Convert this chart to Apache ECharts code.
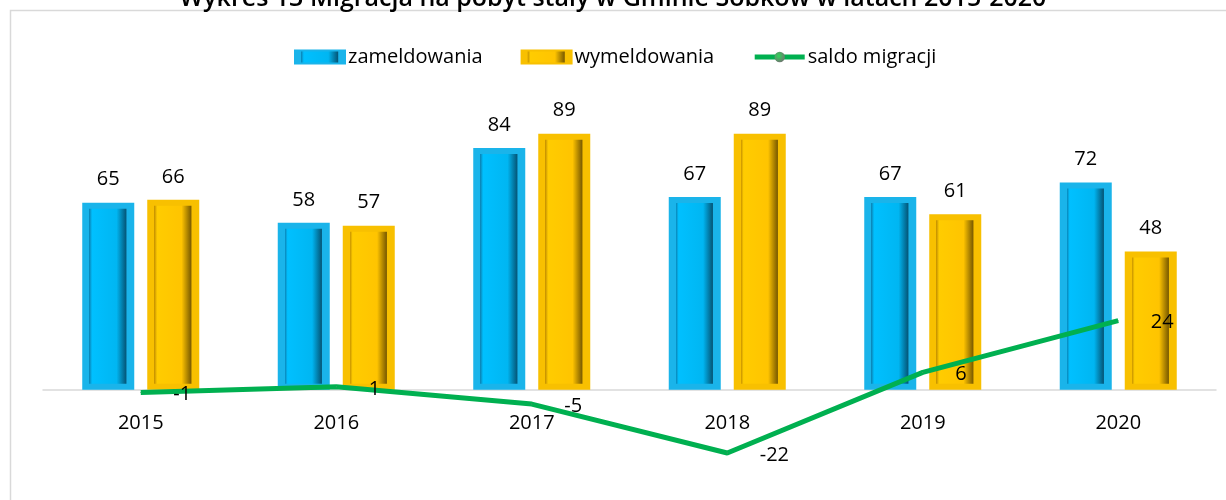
<!DOCTYPE html>
<html>
<head>
<meta charset="utf-8">
<title>Migracja</title>
<script src="https://cdn.jsdelivr.net/npm/echarts@6/dist/echarts.min.js"></script>
<style>
    html, body { margin: 0; padding: 0; background: #fff; }
    #main { width: 1226px; height: 500px; }
</style>
</head>
<body>
<div id="main"></div>
<script>
let categories = ['2015', '2016', '2017', '2018', '2019', '2020']
let zameldowania = [65, 58, 84, 67, 67, 72]
let wymeldowania = [66, 57, 89, 89, 61, 48]
let saldo = [-1, 1, -5, -22, 6, 24]

let font = '"Open Sans", "Noto Sans", sans-serif'
let yMin = -30
let yMax = 100

// bevelled bar look: frame colour at the edges, darker inner right side
function bevel(frame, edge, light, mid, dark) {
    return {
        type: 'linear', x: 0, y: 0, x2: 1, y2: 0,
        colorStops: [
            { offset: 0, color: frame },
            { offset: 0.13, color: frame },
            { offset: 0.14, color: edge },
            { offset: 0.19, color: light },
            { offset: 0.66, color: mid },
            { offset: 0.84, color: dark },
            { offset: 0.86, color: frame },
            { offset: 1, color: frame }
        ]
    }
}

let myChart = echarts.init(document.getElementById('main'))

let option = {
    animation: false,
    textStyle: { fontFamily: font },
    graphic: [
        {
            type: 'rect',
            z: -10,
            shape: { x: 10.5, y: 10.5, width: 1400, height: 700 },
            style: { fill: 'none', stroke: '#d9d9d9', lineWidth: 1.5 }
        }
    ],
    title: {
        text: 'Wykres 13 Migracja na pobyt stały w Gminie Sobków w latach 2015-2020',
        left: 'center',
        top: -19,
        textStyle: { fontFamily: font, fontSize: 25, fontWeight: 600, color: '#000' }
    },
    legend: {
        left: 289,
        top: 42,
        itemGap: 38,
        itemWidth: 50,
        itemHeight: 13,
        textStyle: { fontFamily: font, fontSize: 20, color: '#000', padding: [0, 0, 0, -2] },
        data: [
            { name: 'zameldowania', icon: 'rect' },
            { name: 'wymeldowania', icon: 'rect' },
            { name: 'saldo migracji', lineStyle: { width: 5 } }
        ]
    },
    grid: {
        left: 43,
        right: 10,
        top: 102,
        bottom: 24,
        outerBoundsMode: 'none'
    },
    xAxis: {
        type: 'category',
        data: categories,
        // axis sits on the zero line
        offset: yMin * 374 / (yMax - yMin),
        axisLine: { onZero: false, lineStyle: { color: '#d9d9d9', width: 1.5 } },
        axisTick: { show: false },
        axisLabel: { fontFamily: font, fontSize: 20, color: '#000', margin: 24 }
    },
    yAxis: {
        type: 'value',
        min: yMin,
        max: yMax,
        show: false,
        splitLine: { show: false }
    },
    series: [
        {
            name: 'zameldowania',
            type: 'bar',
            barWidth: 52,
            barGap: '25%',
            data: zameldowania,
            itemStyle: {
                color: bevel('#1ab4ea', '#0a86b8', '#00c0ff', '#00b6f2', '#04587a'),
                borderColor: '#1ab4ea',
                borderWidth: 6
            },
            label: {
                show: true,
                position: 'top',
                distance: 13,
                fontFamily: font,
                fontSize: 20,
                color: '#000'
            }
        },
        {
            name: 'wymeldowania',
            type: 'bar',
            barWidth: 52,
            data: wymeldowania,
            itemStyle: {
                color: bevel('#f8c000', '#c89400', '#ffcc00', '#ffc400', '#7d5d00'),
                borderColor: '#f8c000',
                borderWidth: 6
            },
            label: {
                show: true,
                position: 'top',
                distance: 13,
                fontFamily: font,
                fontSize: 20,
                color: '#000'
            }
        },
        {
            name: 'saldo migracji',
            type: 'line',
            data: saldo,
            z: 5,
            symbol: 'circle',
            symbolSize: 1,
            lineStyle: { color: '#00b050', width: 5 },
            itemStyle: {
                color: {
                    type: 'radial', x: 0.4, y: 0.4, r: 0.6,
                    colorStops: [
                        { offset: 0, color: '#2fd65a' },
                        { offset: 1, color: '#6d7b6f' }
                    ]
                }
            },
            label: {
                show: true,
                position: 'right',
                distance: 32,
                offset: [0, 2],
                fontFamily: font,
                fontSize: 20,
                color: '#000'
            }
        }
    ]
}

myChart.setOption(option)
</script>
</body>
</html>
